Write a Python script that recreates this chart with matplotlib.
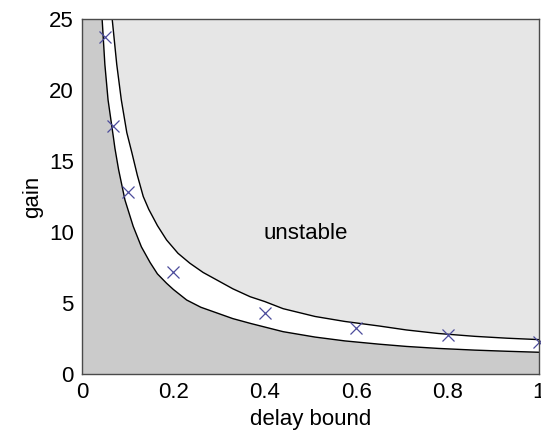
import matplotlib
matplotlib.use('Agg')
import matplotlib.pyplot as plt

plt.rcParams['font.family'] = ['Liberation Sans', 'DejaVu Sans']

# boundary of the unstable region
upper_x = [0.066, 0.076, 0.086, 0.098, 0.109, 0.121, 0.134, 0.146, 0.165, 0.185,
           0.21, 0.236, 0.265, 0.295, 0.33, 0.368, 0.40, 0.44, 0.51, 0.575,
           0.65, 0.71, 0.78, 0.86, 0.93, 1.0]
upper_y = [25.0, 21.8, 19.3, 17.0, 15.6, 14.0, 12.5, 11.6, 10.45, 9.44,
           8.5, 7.8, 7.15, 6.62, 6.0, 5.44, 5.1, 4.6, 4.05, 3.7,
           3.38, 3.1, 2.85, 2.65, 2.52, 2.42]

# boundary of the guaranteed-stable region
lower_x = [0.044, 0.050, 0.057, 0.069, 0.072, 0.08, 0.094, 0.112, 0.13, 0.149,
           0.165, 0.185, 0.2, 0.229, 0.26, 0.295, 0.33, 0.37, 0.44, 0.51,
           0.575, 0.65, 0.71, 0.78, 0.86, 0.93, 1.0]
lower_y = [25.0, 21.8, 19.3, 16.6, 15.9, 14.4, 12.25, 10.4, 8.95, 7.85,
           7.05, 6.39, 5.95, 5.21, 4.7, 4.3, 3.9, 3.55, 2.98, 2.6,
           2.33, 2.1, 1.94, 1.8, 1.68, 1.6, 1.53]

# simulated points
delay = [0.05, 0.067, 0.1, 0.2, 0.4, 0.6, 0.8, 1.0]
gain = [23.7, 17.5, 12.8, 7.2, 4.27, 3.22, 2.73, 2.27]

fig = plt.figure(figsize=(5.41, 4.32), dpi=100)
ax = fig.add_axes([0.1516, 0.1343, 0.8447, 0.8217])

# stable region below the lower curve
ax.fill([0, 0] + lower_x + [1.0], [0, 25] + lower_y + [0],
        color='#cbcbcb', lw=0, zorder=1)
# unstable region above the upper curve
ax.fill(upper_x + [1.0], upper_y + [25],
        color='#e6e6e6', lw=0, zorder=1)

ax.plot(upper_x, upper_y, color='black', lw=1, zorder=2)
ax.plot(lower_x, lower_y, color='black', lw=1, zorder=2)
ax.plot(delay, gain, 'x', color='#4b4b9b', ms=8, mew=0.9, zorder=3,
        clip_on=False)

ax.text(0.49, 9.9, 'unstable', fontsize=16, ha='center', va='center')

ax.set_xlim(0, 1)
ax.set_ylim(0, 25)
ax.set_xticks([0, 0.2, 0.4, 0.6, 0.8, 1])
ax.set_xticklabels(['0', '0.2', '0.4', '0.6', '0.8', '1'])
ax.set_yticks([0, 5, 10, 15, 20, 25])
ax.tick_params(length=0, labelsize=16, pad=6)
ax.set_xlabel('delay bound', fontsize=16, labelpad=4)
ax.set_ylabel('gain', fontsize=16, labelpad=4)
for s in ax.spines.values():
    s.set_color('#4a4a4a')
    s.set_linewidth(1)
    s.set_zorder(4)

fig.savefig('out.png', dpi=100)
